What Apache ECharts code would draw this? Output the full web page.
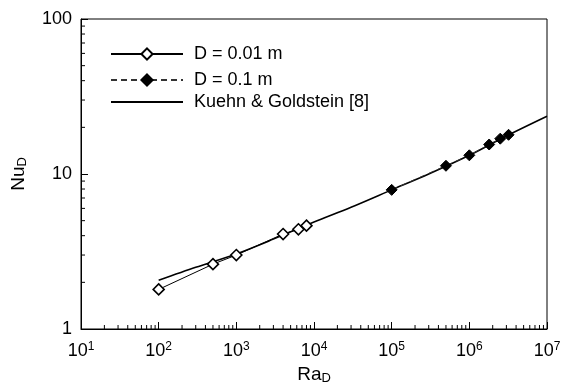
<!DOCTYPE html>
<html><head><meta charset="utf-8">
<script src="https://cdn.jsdelivr.net/npm/echarts@6/dist/echarts.min.js"></script>
<style>html,body{margin:0;padding:0;background:#fff}#c{width:563px;height:387px}</style>
</head><body><div id="c"></div>
<script>
// Data
var ra1 = [100, 500, 1000, 4000, 6300, 8000];
var nu1 = [1.80, 2.62, 3.0, 4.1, 4.4, 4.64];
var ra2 = [1e5, 5e5, 1e6, 1.8e6, 2.5e6, 3.2e6];
var nu2 = [7.9, 11.3, 13.2, 15.5, 16.9, 17.9];
var raKG = [100, 300, 1000, 3000, 1e4, 3e4, 1e5, 3e5, 1e6, 3e6, 1e7];
var nuKG = [2.06, 2.5, 3.05, 3.8, 4.9, 6.1, 7.9, 10.0, 13.2, 17.6, 23.6];
var names = ['D = 0.01 m', 'D = 0.1 m', 'Kuehn & Goldstein [8]'];
var xDecades = [10, 100, 1000, 1e4, 1e5, 1e6];
var yDecades = [1, 10];
var minorMultipliers = [2, 3, 4, 5, 6, 7, 8, 9];

var xMinorTicks = [];
xDecades.forEach(function (d) { minorMultipliers.forEach(function (k) { xMinorTicks.push([k * d, 1]); }); });
var yMinorTicks = [];
yDecades.forEach(function (d) { minorMultipliers.forEach(function (k) { yMinorTicks.push([10, k * d]); }); });

var FONT = '"Liberation Sans", Arial, sans-serif';
function pairs(a, b) { return a.map(function (v, i) { return [v, b[i]]; }); }

var chart = echarts.init(document.getElementById('c'), null, { renderer: 'canvas' });
function legendAt(item, top) {
  return {
    data: [item], left: 110, top: top, padding: 0, itemWidth: 72, itemHeight: 14, itemGap: 0,
    textStyle: { fontFamily: FONT, fontSize: 18, color: '#000', padding: [0, 0, 0, 6] },
    selectedMode: false
  };
}
chart.setOption({
  animation: false,
  backgroundColor: '#fff',
  grid: { left: 81, right: 16, top: 19, bottom: 58, containLabel: false, outerBoundsMode: 'none',
          show: true, borderColor: '#000', borderWidth: 1 },
  legend: [
    legendAt(names[0], 45),
    legendAt(names[1], 71),
    legendAt({ name: names[2], itemStyle: { opacity: 0 } }, 93)
  ],
  xAxis: {
    type: 'log', logBase: 10, min: 10, max: 1e7, splitNumber: 6,
    axisLine: { lineStyle: { color: '#000', width: 1 } },
    axisTick: { inside: true, length: 7, lineStyle: { color: '#000' } },
    splitLine: { show: false },
    axisLabel: {
      margin: 12, color: '#000', fontFamily: FONT,
      formatter: function (v) { return '{b|10}{s|' + Math.round(Math.log10(v)) + '}'; },
      rich: {
        b: { fontSize: 18, fontFamily: FONT, color: '#000' },
        s: { fontSize: 12, fontFamily: FONT, color: '#000', padding: [0, 0, 9, 0] }
      }
    },
    name: '{a|Ra}{d|D}', nameLocation: 'middle', nameGap: 31,
    nameTextStyle: {
      rich: {
        a: { fontSize: 19, fontFamily: FONT, color: '#000' },
        d: { fontSize: 13, fontFamily: FONT, color: '#000', padding: [8, 0, 0, 0] }
      }
    }
  },
  yAxis: {
    type: 'log', logBase: 10, min: 1, max: 100, splitNumber: 2,
    axisLine: { lineStyle: { color: '#000', width: 1 } },
    axisTick: { inside: true, length: 7, lineStyle: { color: '#000' } },
    splitLine: { show: false },
    axisLabel: { margin: 9, color: '#000', fontFamily: FONT, fontSize: 18 },
    name: '{a|Nu}{d|D}', nameLocation: 'middle', nameGap: 52, nameRotate: 90,
    nameTextStyle: {
      rich: {
        a: { fontSize: 19, fontFamily: FONT, color: '#000' },
        d: { fontSize: 13, fontFamily: FONT, color: '#000', padding: [8, 0, 0, 0] }
      }
    }
  },
  series: [
    {
      name: names[0], type: 'line', data: pairs(ra1, nu1),
      symbol: 'diamond', symbolSize: 11, showSymbol: true,
      lineStyle: { color: '#000', width: 1, type: 'solid' },
      itemStyle: { color: '#fff', borderColor: '#000', borderWidth: 1.6 },
      z: 3
    },
    {
      name: names[1], type: 'line', data: pairs(ra2, nu2),
      symbol: 'diamond', symbolSize: 11,
      lineStyle: { color: '#333', width: 1, type: [6, 4] },
      itemStyle: { color: '#000', borderColor: '#000', borderWidth: 1 },
      z: 3
    },
    {
      name: names[2], type: 'line', data: pairs(raKG, nuKG), symbol: 'none', smooth: 0.3,
      lineStyle: { color: '#000', width: 1.6 },
      itemStyle: { color: '#000' }, z: 2
    },
    {
      type: 'custom', coordinateSystem: 'cartesian2d', data: xMinorTicks, silent: true, clip: false, z: 5,
      renderItem: function (params, api) {
        var p = api.coord([api.value(0), api.value(1)]);
        return { type: 'line', shape: { x1: p[0], y1: p[1], x2: p[0], y2: p[1] - 4 }, style: { stroke: '#000', lineWidth: 1 } };
      }
    },
    {
      type: 'custom', coordinateSystem: 'cartesian2d', data: yMinorTicks, silent: true, clip: false, z: 5,
      renderItem: function (params, api) {
        var p = api.coord([api.value(0), api.value(1)]);
        return { type: 'line', shape: { x1: p[0], y1: p[1], x2: p[0] + 4, y2: p[1] }, style: { stroke: '#000', lineWidth: 1 } };
      }
    }
  ]
});
</script></body></html>
